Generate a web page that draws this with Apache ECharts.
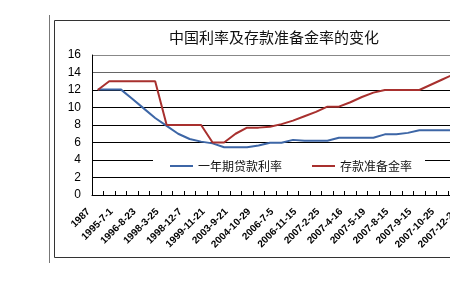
<!DOCTYPE html>
<html>
<head>
<meta charset="utf-8">
<script src="https://cdn.jsdelivr.net/npm/echarts@6/dist/echarts.min.js"></script>
<style>
html,body{margin:0;padding:0;background:#fff;overflow:hidden;}
#c{width:450px;height:286px;}
</style>
</head>
<body>
<div id="c"></div>
<script>
var categories = ["1987","1988-9-1","1995-7-1","1996-5-1","1996-8-23","1997-10-23","1998-3-25","1998-7-1","1998-12-7","1999-6-10","1999-11-21","2002-2-21","2003-9-21","2004-4-25","2004-10-29","2006-4-28","2006-7-5","2006-8-19","2006-11-15","2007-1-15","2007-2-25","2007-3-18","2007-4-16","2007-5-15","2007-5-19","2007-7-21","2007-8-15","2007-8-22","2007-9-15","2007-9-25","2007-10-25","2007-11-26","2007-12-20"];
var loanRate = [12.07,12.07,12.07,11.0,9.9,8.8,7.9,7.0,6.4,6.1,5.9,5.45,5.45,5.45,5.65,5.98,5.98,6.3,6.2,6.2,6.2,6.55,6.55,6.55,6.55,6.93,6.93,7.1,7.4,7.4,7.4,7.4,7.4];
var reserveRate = [12,13,13,13,13,13,8,8,8,8,6,6,7,7.7,7.7,7.8,8.1,8.5,9,9.5,10.1,10.1,10.6,11.2,11.7,12,12,12,12,12.6,13.2,13.8,14.5];
var yTicks = [0,2,4,6,8,10,12,14,16];
var seriesNames = ["一年期贷款利率","存款准备金率"];

var chart = echarts.init(document.getElementById('c'), null, {renderer:'canvas'});
chart.setOption({
  backgroundColor:'#fff',
  animation:false,
  title:{
    text:'中国利率及存款准备金率的变化',
    left:164, top:25,
    textStyle:{fontSize:15, fontWeight:'normal', color:'#111', fontFamily:'Noto Sans CJK SC'}
  },
  graphic:[
    {type:'line', shape:{x1:54.5,y1:20.5,x2:500,y2:20.5}, style:{stroke:'#333',lineWidth:1}, z:-1},
    {type:'line', shape:{x1:54.5,y1:20.5,x2:54.5,y2:257.5}, style:{stroke:'#333',lineWidth:1}, z:-1},
    {type:'line', shape:{x1:54.5,y1:257.5,x2:500,y2:257.5}, style:{stroke:'#333',lineWidth:1}, z:-1},
    {type:'line', shape:{x1:49.5,y1:15,x2:49.5,y2:263}, style:{stroke:'#777',lineWidth:1}, z:-1}
  ],
  legend:{
    data:seriesNames,
    left:153, top:156,
    padding:[4,13,2,17],
    itemGap:30,
    itemWidth:23, itemHeight:14,
    backgroundColor:'#fff',
    textStyle:{fontSize:12, color:'#111', fontFamily:'Noto Sans CJK SC'},
    icon:'path://M0,6 L23,6 L23,8 L0,8 Z'
  },
  grid:{left:92, top:55, height:140, width:379, containLabel:false, outerBoundsMode:'none'},
  xAxis:{
    type:'category',
    data:categories,
    boundaryGap:true,
    axisLine:{lineStyle:{color:'#000',width:1}},
    axisTick:{show:true, inside:true, length:4, interval:0, lineStyle:{color:'#000'}},
    axisLabel:{interval:1, rotate:45, margin:6, fontSize:10, fontWeight:'bold', color:'#000', fontFamily:'Liberation Sans', padding:[0,13,0,0]},
    splitLine:{show:false}
  },
  yAxis:{
    type:'value',
    min:0, max:16, interval:2,
    axisLine:{show:true, lineStyle:{color:'#000'}},
    axisTick:{show:false},
    axisLabel:{fontSize:12, color:'#000', margin:11, fontFamily:'Liberation Sans'},
    splitLine:{show:true, lineStyle:{color:['#000','#000','#000','#000','#000','#000','#000','#666','#888'], width:1}}
  },
  series:[
    {name:seriesNames[0], type:'line', data:loanRate, symbol:'none', lineStyle:{color:'#3D66A6', width:2}, itemStyle:{color:'#3D66A6'}, z:3},
    {name:seriesNames[1], type:'line', data:reserveRate, symbol:'none', lineStyle:{color:'#A8302E', width:2}, itemStyle:{color:'#A8302E'}, z:4}
  ]
});
</script>
</body>
</html>
